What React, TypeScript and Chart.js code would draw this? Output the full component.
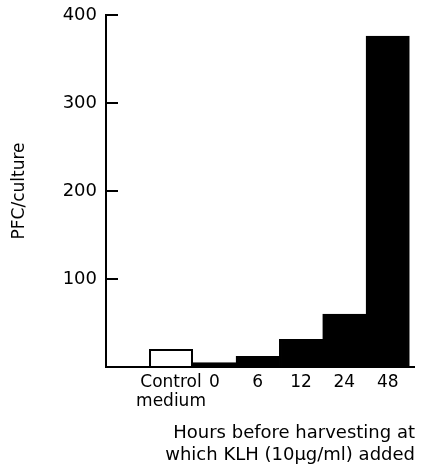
import React, { useEffect, useRef } from "react";
import { Chart, registerables } from "chart.js";

Chart.register(...registerables);

const categories: string[][] = [["Control", "medium"], ["0"], ["6"], ["12"], ["24"], ["48"]];
const positions = [1, 2, 3, 4, 5, 6];
const values = [20, 5, 12, 31.5, 60, 376];
const yTicks = [0, 100, 200, 300, 400];
const yTitle = "PFC/culture";
const xTitle = ["Hours before harvesting at", "which KLH (10\u03bcg/ml) added"];
const fillColors = ["#ffffff", "#000000", "#000000", "#000000", "#000000", "#000000"];

const FONT = "'DejaVu Sans', sans-serif";

export default function App() {
  const ref = useRef<HTMLCanvasElement | null>(null);
  useEffect(() => {
    if (!ref.current) return;
    const chart = new Chart(ref.current, {
      type: "bar",
      data: {
        datasets: [
          {
            data: positions.map((x, i) => ({ x, y: values[i] })),
            backgroundColor: fillColors,
            borderColor: "#000000",
            borderWidth: 2,
            borderSkipped: "start",
            barPercentage: 1,
            categoryPercentage: 1,
          },
        ],
      },
      options: {
        animation: false,
        responsive: true,
        maintainAspectRatio: false,
        layout: { padding: { top: 0, left: 0, right: 0, bottom: 0 } },
        plugins: { legend: { display: false }, tooltip: { enabled: false } },
        scales: {
          x: {
            type: "linear",
            offset: false,
            min: -0.5,
            max: 6.63,
            grid: { display: false, drawTicks: false },
            border: { display: true, color: "#000", width: 2 },
            afterBuildTicks: (scale: any) => {
              scale.ticks = positions.map((v) => ({ value: v }));
            },
            afterFit: (scale: any) => {
              scale.height = 99;
            },
            ticks: {
              autoSkip: false,
              maxRotation: 0,
              padding: 6,
              color: "#000",
              font: { family: FONT, size: 17, lineHeight: 1.12 },
              callback: (v: any) => {
                const i = positions.indexOf(Number(v));
                return i >= 0 ? categories[i] : "";
              },
            },
            title: {
              display: true,
              text: xTitle,
              align: "end",
              color: "#000",
              font: { family: FONT, size: 18, lineHeight: 1.22 },
              padding: { top: 0, bottom: 0 },
            },
          },
          y: {
            min: 0,
            max: 400,
            afterBuildTicks: (scale: any) => {
              scale.ticks = yTicks.map((v) => ({ value: v }));
            },
            afterFit: (scale: any) => {
              scale.width = 106;
              scale.paddingTop = 15;
              scale.paddingBottom = 0;
            },
            grid: {
              drawOnChartArea: false,
              drawTicks: true,
              tickLength: -12,
              color: "#000",
              lineWidth: 2,
            },
            border: { display: true, color: "#000", width: 2 },
            ticks: {
              padding: 21,
              color: "#000",
              font: { family: FONT, size: 18 },
              callback: (v: any) => (Number(v) === 0 ? "" : String(v)),
            },
            title: {
              display: true,
              text: yTitle,
              color: "#000",
              font: { family: FONT, size: 17, lineHeight: 1.2 },
              padding: { top: 9, bottom: 0 },
            },
          },
        },
      },
    } as any);
    return () => chart.destroy();
  }, []);
  return (
    <div style={{ position: "absolute", left: 0, top: 0, width: 415, height: 466 }}>
      <canvas ref={ref} />
    </div>
  );
}
